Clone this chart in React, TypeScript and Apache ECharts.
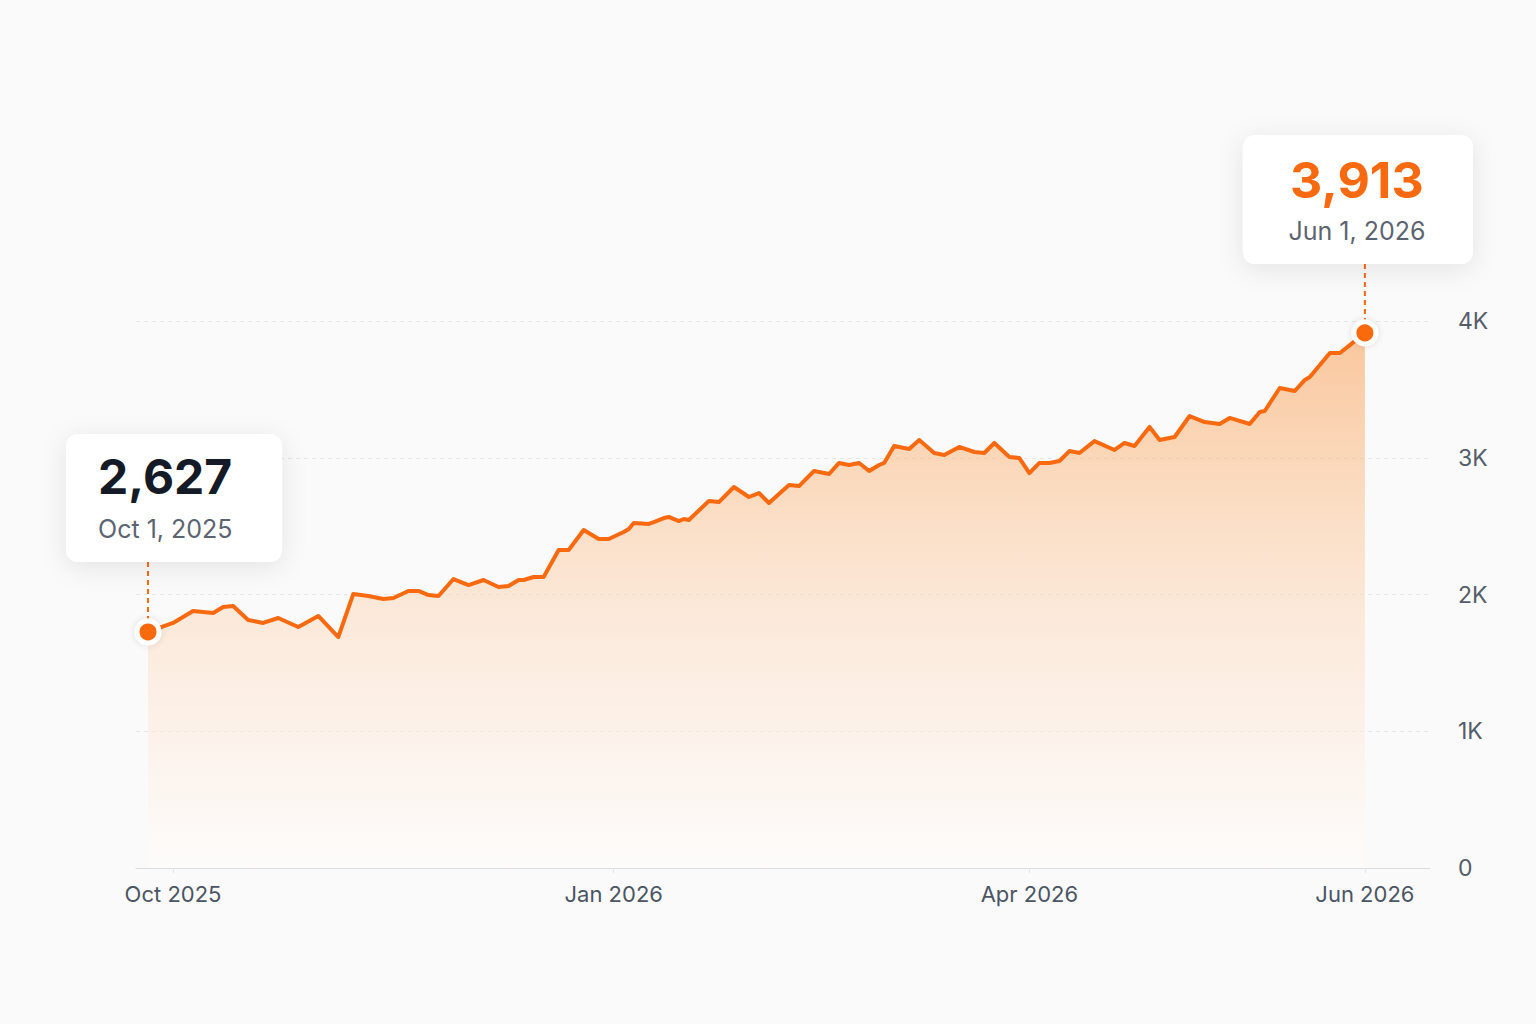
import React, { useEffect, useRef } from 'react';
import * as echarts from 'echarts';

// day offsets from Oct 1, 2025 and the count on each of those days
const sampleDays = [
    0, 5, 9, 13, 15, 17, 20, 23, 26, 30,
    34, 38, 41, 44, 47, 49, 52, 54, 56, 58,
    61, 64, 67, 70, 72, 74, 75, 77, 79, 82,
    84, 87, 90, 92, 95, 96, 97, 100, 101, 103,
    104, 106, 107, 108, 112, 114, 117, 120, 122, 124,
    128, 130, 133, 136, 138, 140, 142, 144, 146, 147,
    149, 152, 154, 157, 159, 162, 165, 167, 169, 172,
    174, 176, 178, 180, 182, 184, 186, 189, 193, 195,
    197, 200, 202, 205, 208, 211, 214, 216, 220, 222,
    223, 226, 229, 231, 232, 236, 238, 240, 241, 243
];

const dailyCounts = [
    1726, 1792, 1879, 1865, 1909, 1916, 1814, 1792, 1828, 1762,
    1843, 1689, 2004, 1989, 1967, 1974, 2026, 2026, 1996, 1989,
    2113, 2069, 2106, 2055, 2062, 2106, 2106, 2128, 2128, 2325,
    2325, 2472, 2406, 2406, 2457, 2479, 2523, 2516, 2530, 2559,
    2567, 2537, 2552, 2545, 2684, 2676, 2786, 2713, 2742, 2669,
    2801, 2793, 2903, 2881, 2962, 2947, 2962, 2903, 2947, 2962,
    3086, 3064, 3130, 3035, 3020, 3079, 3042, 3035, 3108, 3006,
    2998, 2888, 2962, 2962, 2976, 3049, 3035, 3122, 3057, 3108,
    3086, 3225, 3130, 3152, 3305, 3261, 3247, 3291, 3247, 3335,
    3342, 3510, 3488, 3569, 3590, 3766, 3766, 3824, 3854, 3913
];

const tickDays = [5, 93, 176, 243];
const tickLabels = ['Oct 2025', 'Jan 2026', 'Apr 2026', 'Jun 2026'];

const startCallout = { value: '2,627', date: 'Oct 1, 2025' };
const endCallout = { value: '3,913', date: 'Jun 1, 2026' };

const ORANGE = '#f96a10';
const FONT = 'Inter, "Noto Sans", sans-serif';

const App: React.FC = () => {
    const chartRef = useRef<HTMLDivElement>(null);

    useEffect(() => {
        if (!chartRef.current) return;

        const chart = echarts.init(chartRef.current, null, { renderer: 'svg' });

        const seriesData = sampleDays.map((d, i) => [d, dailyCounts[i]]);
        const ends = [seriesData[0], seriesData[seriesData.length - 1]];

        const option = {
            animation: false,
            backgroundColor: '#fafafa',
            textStyle: { fontFamily: FONT },
            grid: { left: 136, right: 106, top: 321, bottom: 156 },
            xAxis: {
                type: 'value',
                min: -2.4,
                max: 256,
                axisLine: { show: true, lineStyle: { color: '#dcdde1', width: 1 } },
                axisTick: {
                    show: true,
                    customValues: tickDays,
                    length: 5,
                    lineStyle: { color: '#e6e7ea' }
                },
                axisLabel: {
                    customValues: tickDays,
                    formatter: (v: number) => {
                        const i = tickDays.indexOf(v);
                        return i >= 0 ? tickLabels[i] : '';
                    },
                    color: '#4b5563',
                    fontSize: 22,
                    margin: 15,
                    fontFamily: FONT
                },
                splitLine: { show: false }
            },
            yAxis: {
                type: 'value',
                position: 'right',
                min: 0,
                max: 4000,
                interval: 1000,
                axisLine: { show: false },
                axisTick: { show: false },
                axisLabel: {
                    formatter: (v: number) => (v === 0 ? '0' : v / 1000 + 'K'),
                    color: '#555d6a',
                    fontSize: 23,
                    margin: 28,
                    fontFamily: FONT
                },
                splitLine: {
                    show: true,
                    lineStyle: { color: '#e6e6e6', type: [4, 4], width: 1 }
                }
            },
            series: [
                {
                    type: 'line',
                    data: seriesData,
                    showSymbol: false,
                    lineStyle: { color: ORANGE, width: 4, join: 'round' },
                    areaStyle: {
                        color: new echarts.graphic.LinearGradient(0, 0, 0, 1, [
                            { offset: 0, color: 'rgba(250, 165, 95, 0.85)' },
                            { offset: 0.25, color: 'rgba(251, 190, 138, 0.8)' },
                            { offset: 0.55, color: 'rgba(253, 220, 193, 0.75)' },
                            { offset: 0.8, color: 'rgba(254, 239, 228, 0.8)' },
                            { offset: 1, color: 'rgba(255, 253, 252, 0.9)' }
                        ])
                    },
                    z: 2
                },
                {
                    type: 'scatter',
                    data: ends,
                    symbolSize: 22,
                    itemStyle: {
                        color: ORANGE,
                        opacity: 1,
                        borderColor: '#ffffff',
                        borderWidth: 5,
                        shadowBlur: 6,
                        shadowColor: 'rgba(0, 0, 0, 0.12)'
                    },
                    z: 5
                }
            ]
        };

        chart.setOption(option);

        const p0 = chart.convertToPixel({ gridIndex: 0 }, ends[0]) as number[];
        const p1 = chart.convertToPixel({ gridIndex: 0 }, ends[1]) as number[];

        const boxStyle = {
            fill: '#ffffff',
            shadowBlur: 26,
            shadowColor: 'rgba(17, 24, 39, 0.09)',
            shadowOffsetY: 5
        };
        const dash = { stroke: ORANGE, lineWidth: 2, lineDash: [5, 4] };

        chart.setOption({
            graphic: [
                {
                    type: 'line',
                    shape: { x1: p0[0], y1: p0[1] - 70, x2: p0[0], y2: p0[1] - 12 },
                    style: dash,
                    z: 4
                },
                {
                    type: 'rect',
                    shape: { x: p0[0] - 82, y: p0[1] - 198, width: 216, height: 128, r: 12 },
                    style: boxStyle,
                    z: 10
                },
                {
                    type: 'text',
                    x: p0[0] - 50,
                    y: p0[1] - 155,
                    style: {
                        text: startCallout.value,
                        fill: '#151b26',
                        fontSize: 48,
                        fontWeight: 'bold',
                        fontFamily: FONT,
                        verticalAlign: 'middle'
                    },
                    z: 11
                },
                {
                    type: 'text',
                    x: p0[0] - 50,
                    y: p0[1] - 103,
                    style: {
                        text: startCallout.date,
                        fill: '#5d6471',
                        fontSize: 25,
                        fontFamily: FONT,
                        verticalAlign: 'middle'
                    },
                    z: 11
                },
                {
                    type: 'line',
                    shape: { x1: p1[0], y1: p1[1] - 69, x2: p1[0], y2: p1[1] - 12 },
                    style: dash,
                    z: 4
                },
                {
                    type: 'rect',
                    shape: { x: p1[0] - 122, y: p1[1] - 198, width: 230, height: 129, r: 12 },
                    style: boxStyle,
                    z: 10
                },
                {
                    type: 'text',
                    x: p1[0] - 8,
                    y: p1[1] - 153,
                    style: {
                        text: endCallout.value,
                        fill: ORANGE,
                        fontSize: 50,
                        fontWeight: 'bold',
                        fontFamily: FONT,
                        align: 'center',
                        verticalAlign: 'middle'
                    },
                    z: 11
                },
                {
                    type: 'text',
                    x: p1[0] - 8,
                    y: p1[1] - 102,
                    style: {
                        text: endCallout.date,
                        fill: '#5d6471',
                        fontSize: 25,
                        fontFamily: FONT,
                        align: 'center',
                        verticalAlign: 'middle'
                    },
                    z: 11
                }
            ]
        });

        return () => {
            chart.dispose();
        };
    }, []);

    return (
        <div
            ref={chartRef}
            style={{
                position: 'absolute',
                left: 0,
                top: 0,
                width: '1536px',
                height: '1024px'
            }}
        />
    );
};

export default App;
